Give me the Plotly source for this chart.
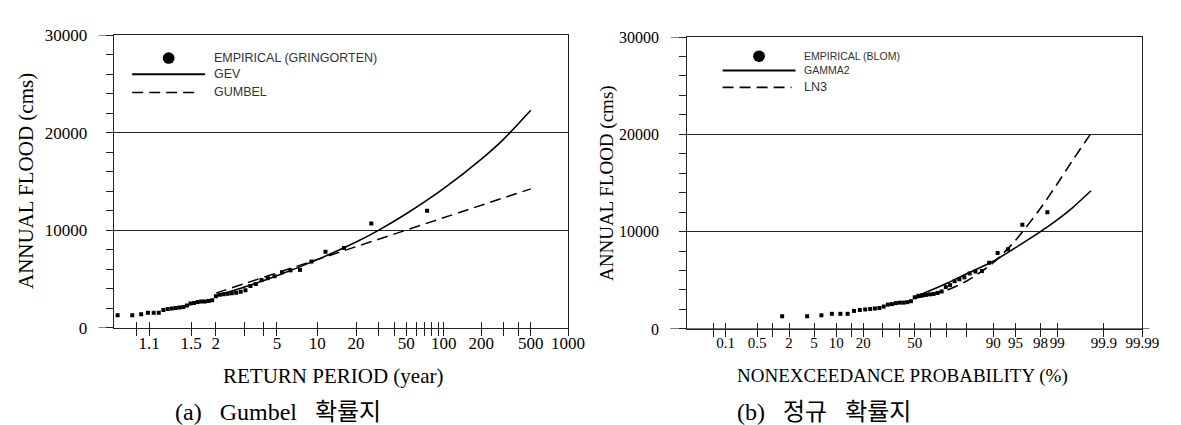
import math
from statistics import NormalDist
import plotly.graph_objects as go

# ---------------- data ----------------
annual_flood = [1300, 1300, 1400, 1550, 1550, 1550, 1850, 1950, 2000, 2050,
                2100, 2150, 2300, 2500, 2550, 2650, 2700, 2700, 2750, 2850,
                3250, 3400, 3450, 3500, 3550, 3600, 3700, 3850, 4300, 4500,
                4900, 5100, 5300, 5700, 5900, 5950, 6800, 7800, 8200, 10700, 12000]

gev_T = [2, 3, 5, 10, 20, 30, 50, 100, 200, 300, 500]
gev_Q = [3300, 4200, 5350, 7000, 8800, 10000, 11700, 14300, 17300, 19300, 22300]

gumbel_T = [2, 5, 10, 20, 50, 100, 200, 500]
gumbel_Q = [3570, 5640, 7010, 8330, 10030, 11310, 12580, 14250]

gamma2_P = [50, 60, 70, 80, 90, 95, 98, 99, 99.5, 99.8]
gamma2_Q = [3300, 3950, 4700, 5650, 6950, 8350, 10000, 11200, 12450, 14200]

ln3_P = [50, 60, 70, 80, 90, 95, 98, 99, 99.5, 99.8]
ln3_Q = [3150, 3500, 3980, 4900, 6800, 9100, 12400, 14900, 17300, 20100]

T_ticks = [1.05, 1.1, 1.5, 2, 3, 4, 5, 10, 20, 30, 40, 50, 60, 70, 80, 90, 100, 200, 300, 400, 500, 1000]
T_labels = ["", "1.1", "1.5", "2", "", "", "5", "10", "20", "", "", "50", "", "", "", "",
            "100", "200", "", "", "500", "1000"]
P_ticks = [0.05, 0.1, 0.5, 1, 2, 5, 10, 15, 20, 30, 40, 50, 60, 70, 80, 90, 95, 98, 99, 99.9, 99.99]
P_labels = ["", "0.1", "0.5", "", "2", "5", "10", "", "20", "", "", "50", "", "", "", "90",
            "95", "98", "99", "99.9", "99.99"]
T_range = [1.01, 1000]
P_range = [0.01, 99.99]

# ---------------- probability-paper scales ----------------
def gumbel_rv(T):
    return -math.log(-math.log(1.0 - 1.0 / T))

_nd = NormalDist()
def probit(P):
    return _nd.inv_cdf(P / 100.0)

n = len(annual_flood)
rank = list(range(1, n + 1))
gringorten_T = [1.0 / (1.0 - (i - 0.44) / (n + 0.12)) for i in rank]
blom_P = [100.0 * (i - 0.375) / (n + 0.25) for i in rank]

W, H = 1181, 425
LINE = "#222222"
SERIF = "Liberation Serif, Times New Roman, serif"
SANS = "Liberation Sans, Arial, sans-serif"

fig = go.Figure()
# left panel
fig.add_trace(go.Scatter(x=[gumbel_rv(t) for t in gringorten_T], y=annual_flood, mode="markers",
                         marker=dict(symbol="square", size=4, color="black"),
                         name="EMPIRICAL (GRINGORTEN)", xaxis="x", yaxis="y", showlegend=False))
fig.add_trace(go.Scatter(x=[gumbel_rv(t) for t in gev_T], y=gev_Q, mode="lines",
                         line=dict(color="black", width=1.6, shape="spline", smoothing=0.8),
                         name="GEV", xaxis="x", yaxis="y", showlegend=False))
fig.add_trace(go.Scatter(x=[gumbel_rv(t) for t in gumbel_T], y=gumbel_Q, mode="lines",
                         line=dict(color="black", width=1.5, dash="11px,6px"),
                         name="GUMBEL", xaxis="x", yaxis="y", showlegend=False))
# right panel
fig.add_trace(go.Scatter(x=[probit(p) for p in blom_P], y=annual_flood, mode="markers",
                         marker=dict(symbol="square", size=4, color="black"),
                         name="EMPIRICAL (BLOM)", xaxis="x2", yaxis="y2", showlegend=False))
fig.add_trace(go.Scatter(x=[probit(p) for p in gamma2_P], y=gamma2_Q, mode="lines",
                         line=dict(color="black", width=1.6, shape="spline", smoothing=0.8),
                         name="GAMMA2", xaxis="x2", yaxis="y2", showlegend=False))
fig.add_trace(go.Scatter(x=[probit(p) for p in ln3_P], y=ln3_Q, mode="lines",
                         line=dict(color="black", width=1.6, dash="11px,6px", shape="spline", smoothing=0.8),
                         name="LN3", xaxis="x2", yaxis="y2", showlegend=False))
# carriers for the outside-tick overlay axes
fig.add_trace(go.Scatter(x=[None], y=[None], xaxis="x3", yaxis="y", showlegend=False, hoverinfo="skip"))
fig.add_trace(go.Scatter(x=[None], y=[None], xaxis="x4", yaxis="y2", showlegend=False, hoverinfo="skip"))

xl_range = [gumbel_rv(T_range[0]), gumbel_rv(T_range[1])]
xr_range = [probit(P_range[0]), probit(P_range[1])]
xl_ticks = [gumbel_rv(t) for t in T_ticks]
xr_ticks = [probit(p) for p in P_ticks]

L_dom = [107.3 / W, 568.3 / W]
R_dom = [689.0 / W, 1151.0 / W]
L_ydom = [1 - 325.5 / H, 1 - 19.0 / H]
R_ydom = [1 - 326.5 / H, 1 - 21.0 / H]

def xmain(dom, rng, tv, tt, anchor, fs):
    # labels + the part of each tick that rises above the axis line
    return dict(domain=dom, range=rng, anchor=anchor, tickmode="array", tickvals=tv, ticktext=tt,
                ticks="inside", ticklen=6, tickwidth=1, tickcolor=LINE, tickangle=0,
                showline=True, linecolor=LINE, linewidth=1, mirror=True,
                showgrid=False, zeroline=False, ticklabelstandoff=0,
                tickfont=dict(family=SERIF, size=fs, color="black"))

def xover(base, rng, tv, anchor):
    # the part of each tick that hangs below the axis line
    return dict(overlaying=base, range=rng, anchor=anchor, tickmode="array", tickvals=tv,
                ticks="outside", ticklen=7, tickwidth=1, tickcolor=LINE,
                showticklabels=False, showline=False, showgrid=False, zeroline=False)

def ymain(dom, anchor, fs, standoff):
    return dict(domain=dom, range=[0, 30000], anchor=anchor, tickmode="linear", tick0=0, dtick=10000,
                tickformat="d", ticks="outside", ticklen=7, tickwidth=1, tickcolor=LINE,
                showline=True, linecolor=LINE, linewidth=1, mirror=True,
                showgrid=True, gridcolor=LINE, gridwidth=1, zeroline=False,
                minor=dict(tick0=0, dtick=2000, ticks="outside", ticklen=7, tickwidth=1,
                           tickcolor=LINE, showgrid=False),
                ticklabelstandoff=standoff,
                tickfont=dict(family=SERIF, size=fs, color="black"))

fig.update_layout(
    width=W, height=H, margin=dict(l=0, r=0, t=0, b=0),
    paper_bgcolor="white", plot_bgcolor="white",
    xaxis=xmain(L_dom, xl_range, xl_ticks, T_labels, "y", 17),
    xaxis3=xover("x", xl_range, xl_ticks, "y"),
    yaxis=ymain(L_ydom, "x", 17, 15),
    xaxis2=xmain(R_dom, xr_range, xr_ticks, P_labels, "y2", 15),
    xaxis4=xover("x2", xr_range, xr_ticks, "y2"),
    yaxis2=ymain(R_ydom, "x2", 16, 17),
)

shapes = []
# axis-line extensions beyond the frame
shapes.append(dict(type="line", xref="x domain", yref="y", x0=-15.5 / 461, x1=0, y0=0, y1=0,
                   line=dict(color=LINE, width=1)))
shapes.append(dict(type="line", xref="x domain", yref="y", x0=-15.5 / 461, x1=0, y0=30000, y1=30000,
                   line=dict(color=LINE, width=1)))
shapes.append(dict(type="line", xref="x2 domain", yref="y2", x0=-17 / 462, x1=1 + 7 / 462, y0=0, y1=0,
                   line=dict(color=LINE, width=1)))
shapes.append(dict(type="line", xref="x2 domain", yref="y2", x0=-16.5 / 462, x1=0, y0=30000, y1=30000,
                   line=dict(color=LINE, width=1)))

# hand-drawn style legends
def px(xp):
    return xp / W
def py(yp):
    return 1 - yp / H

def legend_block(cx, line_x0, line_x1, dash_x1, ys, labels, sizes, text_x):
    shapes.append(dict(type="circle", xref="paper", yref="paper",
                       x0=px(cx - 6), x1=px(cx + 6), y0=py(ys[0] + 6), y1=py(ys[0] - 6),
                       fillcolor="black", line=dict(color="black", width=0)))
    shapes.append(dict(type="line", xref="paper", yref="paper", x0=px(line_x0), x1=px(line_x1),
                       y0=py(ys[1]), y1=py(ys[1]), line=dict(color="black", width=2)))
    shapes.append(dict(type="line", xref="paper", yref="paper", x0=px(line_x0), x1=px(dash_x1),
                       y0=py(ys[2]), y1=py(ys[2]), line=dict(color="black", width=1.6, dash="11px,6px")))
    for yv, lab, fs in zip(ys, labels, sizes):
        fig.add_annotation(x=px(text_x), y=py(yv), xref="paper", yref="paper", text=lab,
                           showarrow=False, xanchor="left", yanchor="middle",
                           font=dict(family=SANS, size=fs, color="#333333"))

legend_block(163, 126, 200, 193, [43, 60, 79], ["EMPIRICAL (GRINGORTEN)", "GEV", "GUMBEL"],
             [12.5, 12.5, 12.5], 207)
legend_block(762, 725, 799, 795, [41, 56, 73.7], ["EMPIRICAL (BLOM)", "GAMMA2", "LN3"],
             [10.5, 10.5, 12.5], 806)

fig.update_layout(shapes=shapes)

# axis titles and captions
def ann(x, y, text, size, angle=0, family=SERIF):
    fig.add_annotation(x=px(x), y=py(y), xref="paper", yref="paper", text=text, showarrow=False,
                       xanchor="center", yanchor="middle", textangle=angle,
                       font=dict(family=family, size=size, color="black"))

ann(330, 376, "RETURN PERIOD (year)", 21)
ann(19, 172, "ANNUAL FLOOD (cms)", 21, -90)
ann(907.5, 376, "NONEXCEEDANCE PROBABILITY (%)", 19)
ann(607, 173.5, "ANNUAL FLOOD (cms)", 19, -90)
CAP = "Liberation Serif, Noto Sans CJK KR, serif"
ann(274, 413, "(a)\u00a0\u00a0\u00a0Gumbel\u00a0\u00a0\u00a0확률지", 24, family=CAP)
ann(828, 413, "(b)\u00a0\u00a0\u00a0정규\u00a0\u00a0\u00a0확률지", 24, family=CAP)

fig.write_html("out.html")
